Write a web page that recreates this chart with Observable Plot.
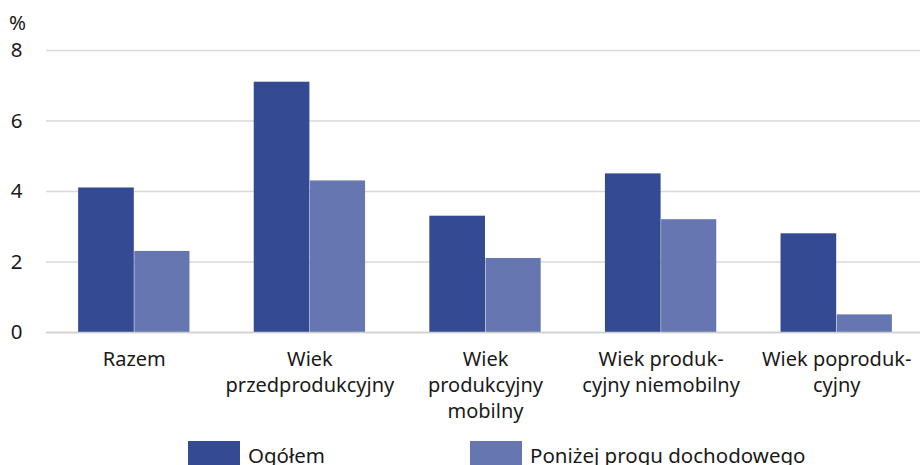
<!DOCTYPE html>
<html>
<head>
<meta charset="utf-8">
<script src="https://cdn.jsdelivr.net/npm/d3@7"></script>
<script src="https://cdn.jsdelivr.net/npm/@observablehq/plot@0.6"></script>
<style>
  html, body { margin: 0; padding: 0; background: #fff; overflow: hidden; }
  body { width: 920px; height: 465px; position: relative; font-family: "Noto Sans", sans-serif; color: #1a1a1a; }
  #legend { position: absolute; top: 441px; left: 188px; display: flex; font-size: 20.5px; }
  .item { display: flex; align-items: flex-start; }
  .sw { width: 52px; height: 26px; margin-right: 8px; }
  .lbl { line-height: 26px; margin-top: 1px; }
</style>
</head>
<body>
<div id="chart"></div>
<div id="legend"></div>
<script>
const categories = ["Razem", "Wiek\nprzedprodukcyjny", "Wiek\nprodukcyjny\nmobilny", "Wiek produk-\ncyjny niemobilny", "Wiek poproduk-\ncyjny"];
const series = ["Ogółem", "Poniżej progu dochodowego"];
const ogolem = [4.1, 7.1, 3.3, 4.5, 2.8];
const ponizej = [2.3, 4.3, 2.1, 3.2, 0.5];
const yTicks = [0, 2, 4, 6, 8];
const colors = ["#344a93", "#6676b0"];

const dataA = categories.map((c, i) => ({cat: c, value: ogolem[i], series: series[0]}));
const dataB = categories.map((c, i) => ({cat: c, value: ponizej[i], series: series[1]}));

const W = 920, mL = 46, mR = -4;
const pInner = 0.366, pOuter = 0.183;
const step = (W - mL - mR) / (categories.length - pInner + 2 * pOuter);
const half = step * (1 - pInner) / 2;
const FS = 20.5;

const chart = Plot.plot({
  width: W,
  height: 435,
  marginLeft: mL,
  marginRight: mR,
  marginTop: 50,
  marginBottom: 103,
  style: {fontFamily: "Noto Sans, sans-serif", color: "#1a1a1a", background: "#fff"},
  x: {domain: categories, paddingInner: pInner, paddingOuter: pOuter, round: false, label: null},
  y: {domain: [0, 8], label: null},
  color: {domain: series, range: colors},
  marks: [
    Plot.gridY(yTicks, {stroke: "#d9d9d9", strokeOpacity: 1, strokeWidth: 1.3}),
    Plot.barY(dataA, {x: "cat", y: "value", fill: "series", insetRight: half}),
    Plot.barY(dataB, {x: "cat", y: "value", fill: "series", insetLeft: half + 0.5}),
    Plot.ruleY([0], {stroke: "#d0d0d0", strokeWidth: 1.5}),
    Plot.axisY(yTicks, {tickSize: 0, tickPadding: 24, fontSize: FS, label: null}),
    Plot.axisX({tickSize: 0, tickPadding: 15.5, fontSize: 20, lineHeight: 1.3, label: null}),
    Plot.text(["%"], {frameAnchor: "top-left", dx: -29, dy: -35, fontSize: FS, textAnchor: "middle", fill: "#1a1a1a"})
  ]
});
document.getElementById("chart").appendChild(chart);

const legend = document.getElementById("legend");
series.forEach((s, i) => {
  const it = document.createElement("div");
  it.className = "item";
  it.style.width = i === 0 ? "282px" : "auto";
  const sw = document.createElement("div");
  sw.className = "sw";
  sw.style.background = colors[i];
  const lb = document.createElement("div");
  lb.className = "lbl";
  lb.textContent = s;
  it.appendChild(sw); it.appendChild(lb);
  legend.appendChild(it);
});
</script>
</body>
</html>
